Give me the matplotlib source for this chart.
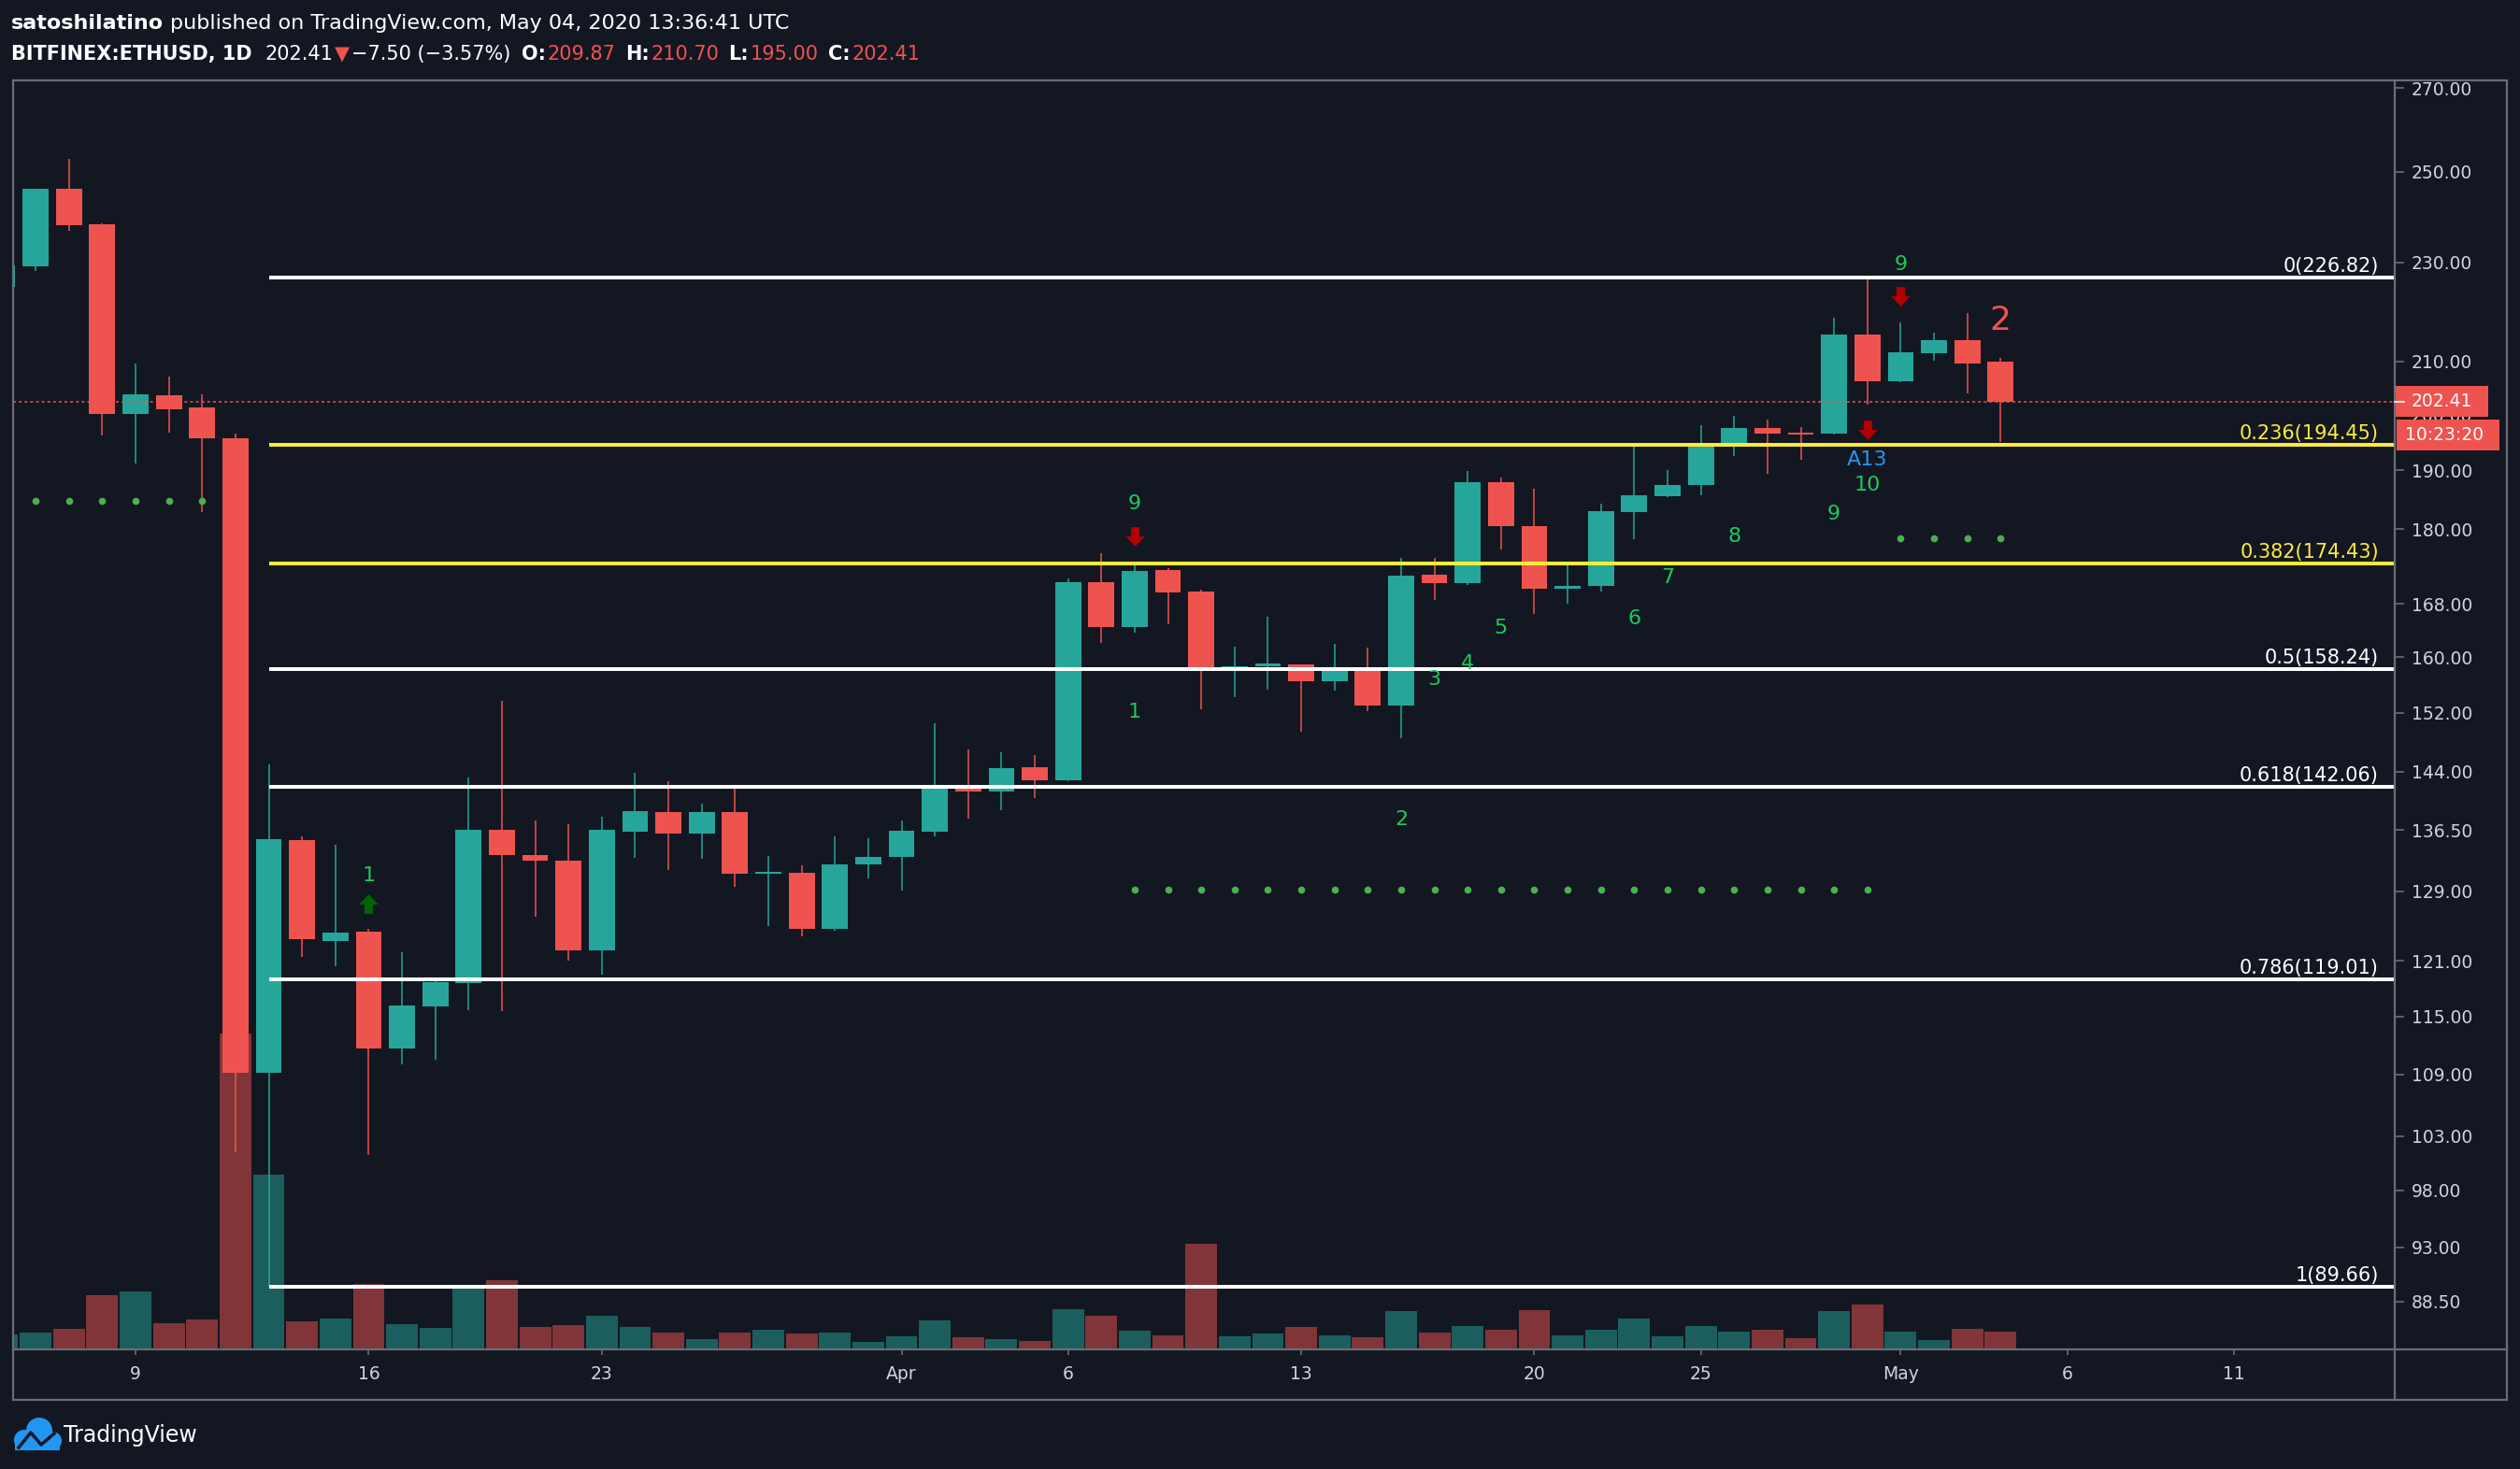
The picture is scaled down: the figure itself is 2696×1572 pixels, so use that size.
import numpy as np
import matplotlib
matplotlib.use("Agg")
import matplotlib.pyplot as plt
from matplotlib.path import Path
from matplotlib.patches import Rectangle, Circle
from matplotlib.ticker import NullLocator

##########
#  Data  #
##########

# daily candles, BITFINEX:ETHUSD, 2020-03-05 .. 2020-05-04
days = np.arange('2020-03-05', '2020-05-05', dtype='datetime64[D]')

opens = [224.9, 229.2, 246.1, 238.2, 200.1, 203.5, 201.3, 195.6, 109.2, 135.2,
         123.3, 124.3, 111.7, 116.1, 118.6, 136.5, 133.4, 132.7, 122.2, 136.3,
         138.8, 136.1, 138.8, 131.1, 131.2, 124.6, 132.2, 133.1, 136.3, 141.9,
         141.4, 144.6, 142.9, 171.4, 164.5, 173.3, 169.9, 158.4, 158.6, 158.9,
         156.5, 158.0, 153.0, 172.6, 171.2, 187.9, 180.5, 170.4, 170.8, 182.8,
         185.5, 187.5, 194.2, 197.5, 196.6, 196.5, 215.2, 206.2, 211.6, 214.2,
         209.87]
highs = [229.6, 246.1, 253.0, 238.4, 209.6, 207.1, 203.7, 196.5, 145.0, 135.7,
         134.6, 124.6, 122.0, 118.9, 143.2, 153.7, 137.7, 137.2, 138.2, 143.9,
         142.7, 139.8, 141.8, 133.3, 132.1, 135.7, 135.5, 137.7, 150.6, 147.0,
         146.6, 146.2, 172.0, 176.0, 174.3, 173.6, 170.2, 161.6, 166.1, 158.9,
         162.0, 161.4, 175.3, 175.3, 189.9, 188.7, 186.8, 174.1, 184.3, 194.3,
         190.0, 198.0, 199.7, 199.1, 197.7, 218.6, 226.82, 217.7, 215.6, 219.5,
         210.70]
lows = [224.5, 228.1, 236.8, 196.2, 191.2, 196.7, 182.9, 101.5, 89.66, 121.5,
        120.4, 101.2, 110.0, 110.5, 115.7, 115.6, 126.0, 121.0, 119.5, 133.0,
        131.6, 132.9, 129.5, 125.0, 123.8, 124.4, 130.6, 129.1, 135.7, 137.9,
        139.0, 140.6, 142.7, 162.1, 163.6, 164.9, 152.5, 154.2, 155.3, 149.4,
        155.2, 152.3, 148.5, 168.6, 171.0, 176.6, 166.5, 168.1, 170.0, 178.3,
        185.3, 185.7, 192.5, 189.4, 191.8, 196.3, 201.8, 206.1, 210.1, 203.9,
        195.00]
closes = [229.4, 246.1, 237.9, 200.1, 203.7, 201.0, 195.6, 109.2, 135.3, 123.5,
          124.2, 111.7, 116.2, 118.7, 136.5, 133.4, 132.7, 122.2, 136.5, 138.9,
          136.1, 138.8, 131.1, 131.3, 124.6, 132.2, 133.2, 136.4, 141.9, 141.4,
          144.5, 142.9, 171.4, 164.5, 173.2, 169.8, 158.4, 158.6, 159.1, 156.5,
          158.0, 153.0, 172.5, 171.2, 187.9, 180.5, 170.4, 170.8, 183.0, 185.7,
          187.5, 194.2, 197.5, 196.5, 196.3, 215.2, 206.2, 211.7, 214.2, 209.6,
          202.41]
# relative volume (bar heights)
volumes = [15.7, 17.7, 21.7, 57.7, 61.7, 27.7, 31.7, 337.7, 186.7, 29.7,
           32.7, 69.7, 26.7, 22.7, 65.0, 73.7, 23.7, 25.7, 35.7, 23.7,
           18, 11, 18, 21, 17, 18, 8, 14, 31, 13,
           11, 9, 43, 36, 20, 15, 113, 14, 17, 24,
           15, 13, 41, 18, 25, 21, 42, 15, 21, 33,
           14, 25, 19, 21, 12, 41, 48, 19, 10, 22,
           19]

# fibonacci retracement (Mar 13 low -> Apr 30 high)
fib_start = '2020-03-13'
fib_ratios = ['0', '0.236', '0.382', '0.5', '0.618', '0.786', '1']
fib_prices = [226.82, 194.45, 174.43, 158.24, 142.06, 119.01, 89.66]

# TD sequential marks
tdst_from = ['2020-03-06', '2020-04-08', '2020-05-01']
tdst_to = ['2020-03-11', '2020-04-30', '2020-05-04']
tdst_price = [184.7, 129.2, 178.5]

count_text = ['1', '9', '1', '2', '3', '4', '5', '6', '7', '8', '9', '10', '9']
count_dates = ['2020-03-16', '2020-04-08', '2020-04-08', '2020-04-16', '2020-04-17',
               '2020-04-18', '2020-04-19', '2020-04-23', '2020-04-24', '2020-04-26',
               '2020-04-29', '2020-04-30', '2020-05-01']
count_price = [130.9, 184.2, 152.1, 137.8, 156.7, 159.1, 164.4, 165.7, 172.2, 178.8,
               182.5, 187.5, 229.5]

sell_dates = ['2020-04-08', '2020-04-30', '2020-05-01']
sell_price = [178.8, 197.2, 223.0]
buy_dates = ['2020-03-16']
buy_price = [127.6]

agg_text, agg_date, agg_price = 'A13', '2020-04-30', 191.8
risk_text, risk_date, risk_price = '2', '2020-05-04', 218.0

# axes ticks
y_ticks = [88.5, 93, 98, 103, 109, 115, 121, 129, 136.5, 144, 152, 160, 168,
           180, 190, 200, 210, 230, 250, 270]
x_tick_dates = ['2020-03-09', '2020-03-16', '2020-03-23', '2020-04-01', '2020-04-06',
                '2020-04-13', '2020-04-20', '2020-04-25', '2020-05-01', '2020-05-06',
                '2020-05-11']
x_tick_labels = ['9', '16', '23', 'Apr', '6', '13', '20', '25', 'May', '6', '11']

#########
# Style #
#########

BG = '#131722'
UP = '#26a69a'
DOWN = '#ef5350'
GRID = '#6a6d78'
TXT = '#d1d4dc'
TD_GREEN = '#1ec95a'
DOT_GREEN = '#4caf50'
ARROW_RED = '#b00000'
ARROW_GREEN = '#006400'
FIB_COL = ['#ffffff', '#ffeb3b', '#ffeb3b', '#ffffff', '#ffffff', '#ffffff', '#ffffff']

W, H = 2696, 1572
pane_l, pane_r, pane_t, pane_b = 13.5, 2562, 86, 1444
day_px, first_px = 35.63, 2.5


def day_index(d):
    return (np.datetime64(d) - days[0]).astype(int)


def arrow_path(up):
    s = 1 if up else -1
    verts = [(-0.22, -0.5 * s), (0.22, -0.5 * s), (0.22, -0.02 * s), (0.5, -0.02 * s),
             (0.0, 0.5 * s), (-0.5, -0.02 * s), (-0.22, -0.02 * s), (-0.22, -0.5 * s)]
    codes = [Path.MOVETO] + [Path.LINETO] * 6 + [Path.CLOSEPOLY]
    return Path(verts, codes)


def text_runs(ax, x, y, runs, size, renderer):
    for s, color, weight, gap in runs:
        t = ax.text(x, y, s, color=color, fontsize=size, fontweight=weight,
                    ha='left', va='center')
        x += t.get_window_extent(renderer=renderer).width + gap


########
# Plot #
########

fig = plt.figure(figsize=(W / 100, H / 100), dpi=100, facecolor=BG)
rect = [pane_l / W, 1 - pane_b / H, (pane_r - pane_l) / W, (pane_b - pane_t) / H]
xlim = ((pane_l - first_px) / day_px, (pane_r - first_px) / day_px)

idx = np.arange(len(days))
o, h, l, c = map(np.array, (opens, highs, lows, closes))
up = c >= o
cols = np.where(up, UP, DOWN)

# volume pane (behind everything)
axv = fig.add_axes(rect, facecolor=BG)
axv.bar(idx, volumes, width=0.95, color=cols, alpha=0.5, linewidth=0)
axv.set_xlim(xlim)
axv.set_ylim(0, pane_b - pane_t)
axv.axis('off')

# price pane
ax = fig.add_axes(rect, facecolor='none')
ax.set_yscale('log')
ax.vlines(idx, l, h, colors=cols, linewidth=1.1, zorder=2)
body_lo = np.minimum(o, c)
body_hi = np.maximum(np.maximum(o, c), body_lo * 1.0015)
ax.bar(idx, body_hi - body_lo, bottom=body_lo, width=0.78, color=cols,
       linewidth=0, zorder=3)

# fib levels
f0 = day_index(fib_start)
for r, p, col in zip(fib_ratios, fib_prices, FIB_COL):
    ax.hlines(p, f0, xlim[1], colors=col, linewidth=2.9, zorder=4)
    ax.annotate('%s(%.2f)' % (r, p), xy=(0.9933, p), xycoords=('axes fraction', 'data'),
                xytext=(0, 6), textcoords='offset pixels', ha='right', va='baseline',
                color=col, fontsize=15, zorder=5)

# last price line
ax.axhline(closes[-1], color=DOWN, linewidth=1.1, linestyle=(0, (2, 2)), zorder=5)

# TD sequential
for a, b, p in zip(tdst_from, tdst_to, tdst_price):
    xs = np.arange(day_index(a), day_index(b) + 1)
    ax.plot(xs, [p] * len(xs), 'o', color=DOT_GREEN, ms=5.5, mew=0, zorder=6)
for s, d, p in zip(count_text, count_dates, count_price):
    ax.text(day_index(d), p, s, color=TD_GREEN, fontsize=16, ha='center',
            va='center', zorder=6)
ax.text(day_index(agg_date), agg_price, agg_text, color='#2196f3', fontsize=16,
        ha='center', va='center', zorder=6)
ax.text(day_index(risk_date), risk_price, risk_text, color=DOWN, fontsize=26,
        ha='center', va='center', zorder=6)
ax.plot([day_index(d) for d in sell_dates], sell_price, linestyle='none',
        marker=arrow_path(False), ms=15, color=ARROW_RED, mew=0, zorder=6)
ax.plot([day_index(d) for d in buy_dates], buy_price, linestyle='none',
        marker=arrow_path(True), ms=15, color=ARROW_GREEN, mew=0, zorder=6)

ax.set_xlim(xlim)
ax.set_ylim(84.67, 271.9)
ax.yaxis.tick_right()
ax.set_yticks(y_ticks)
ax.set_yticklabels(['%.2f' % t for t in y_ticks])
ax.yaxis.set_minor_locator(NullLocator())
ax.set_xticks([day_index(d) for d in x_tick_dates])
ax.set_xticklabels(x_tick_labels)
ax.tick_params(axis='y', length=7, width=1.2, color=GRID, labelcolor=TXT,
               labelsize=13.5, pad=6)
ax.tick_params(axis='x', length=4.5, width=1.2, color=GRID, labelcolor=TXT,
               labelsize=13.5, pad=8)
for sp in ax.spines.values():
    sp.set_visible(False)

# overlay in pixel coords: frame, header, price tags, logo
ov = fig.add_axes([0, 0, 1, 1], facecolor='none')
ov.set_xlim(0, W)
ov.set_ylim(H, 0)
ov.axis('off')

fr = dict(color=GRID, linewidth=1.6)
ov.plot([pane_l, 2682, 2682, pane_l, pane_l], [pane_t, pane_t, 1498, 1498, pane_t], **fr)
ov.plot([pane_r, pane_r], [pane_t, 1498], **fr)
ov.plot([pane_l, 2682], [pane_b, pane_b], **fr)

ypix = H - ax.transData.transform((0, closes[-1]))[1]
ov.add_patch(Rectangle((pane_r, ypix - 16.5), 100, 33, fc=DOWN, ec='none'))
ov.plot([pane_r, pane_r + 10], [ypix, ypix], color='white', linewidth=1.2)
ov.text(2580, ypix, '%.2f' % closes[-1], color='white', fontsize=13.5, va='center')
ov.add_patch(Rectangle((pane_r + 2, ypix + 19.5), 110, 33, fc=DOWN, ec='none'))
ov.text(2573, ypix + 36, '10:23:20', color='white', fontsize=13.5, va='center')

renderer = fig.canvas.get_renderer()
WHITE = '#ffffff'
text_runs(ov, 12, 25, [('satoshilatino', WHITE, 'bold', 7),
                       ('published on TradingView.com, May 04, 2020 13:36:41 UTC',
                        WHITE, 'normal', 0)], 16, renderer)
text_runs(ov, 12, 58, [('BITFINEX:ETHUSD, 1D', WHITE, 'bold', 14),
                       ('202.41', WHITE, 'normal', 1),
                       ('\u25bc', DOWN, 'normal', 3),
                       ('\u22127.50 (\u22123.57%)', WHITE, 'normal', 11),
                       ('O:', WHITE, 'bold', 2), ('209.87', DOWN, 'normal', 10),
                       ('H:', WHITE, 'bold', 2), ('210.70', DOWN, 'normal', 10),
                       ('L:', WHITE, 'bold', 2), ('195.00', DOWN, 'normal', 10),
                       ('C:', WHITE, 'bold', 2), ('202.41', DOWN, 'normal', 0)],
          15, renderer)

# TradingView logo
blue = '#2196f3'
for cx, cy, r in [(26, 1541, 11), (42, 1531, 14), (56, 1542, 10)]:
    ov.add_patch(Circle((cx, cy), r, fc=blue, ec='none'))
ov.add_patch(Rectangle((16, 1540), 48, 12, fc=blue, ec='none'))
ov.plot([20, 33, 44, 58], [1549, 1533, 1546, 1534], color=BG, linewidth=2.5)
ov.text(68, 1536, 'TradingView', color=WHITE, fontsize=17, va='center')

fig.savefig('out.png', dpi=100, facecolor=BG)
